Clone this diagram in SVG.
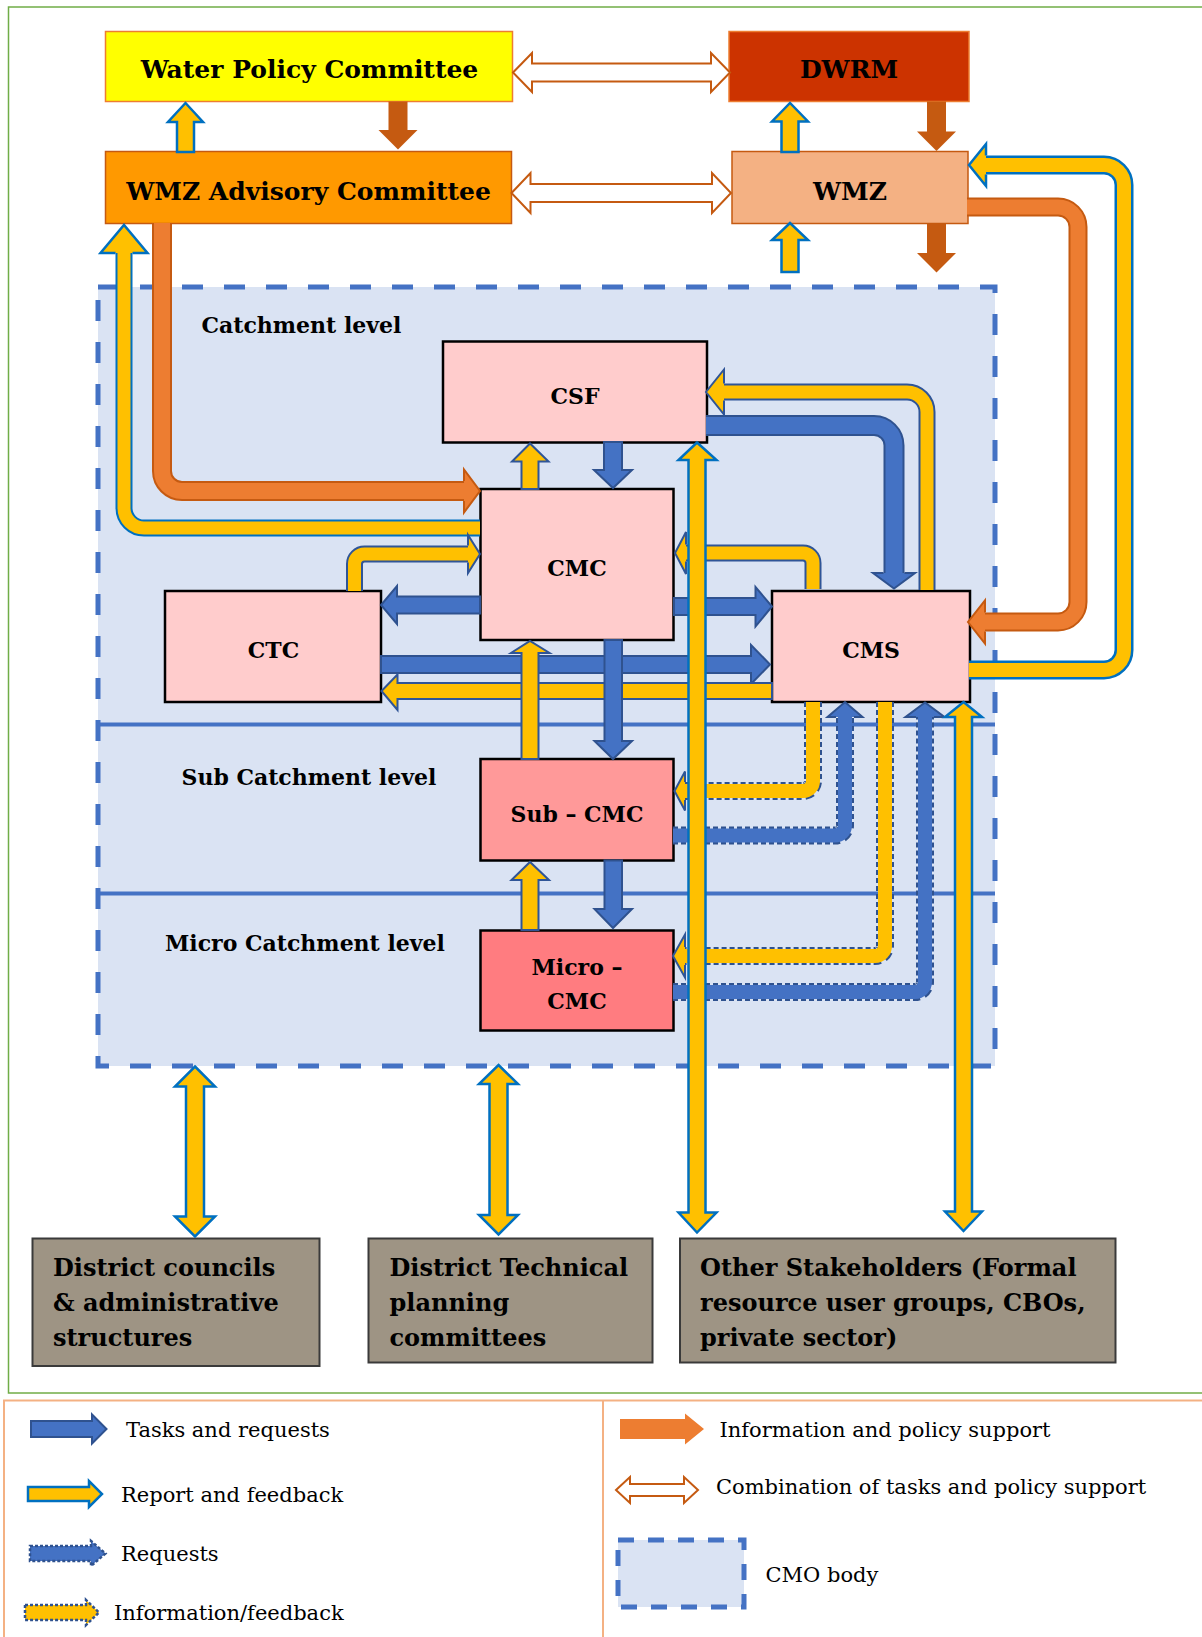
<svg xmlns="http://www.w3.org/2000/svg" width="1202" height="1637" viewBox="0 0 1202 1637">
<style>
text{font-family:"DejaVu Serif","Liberation Serif",serif;fill:#000}
.b{font-weight:bold}
.t25{font-size:25px}
.t22{font-size:22px}
.t24{font-size:24px}
.t21{font-size:21px}
.nb{stroke:#000;stroke-width:2.5}
.gb{fill:#9E9484;stroke:#3A3A3A;stroke-width:2}
.yb{fill:#FFC000;stroke:#0070C0;stroke-width:2.5}
.yd{fill:#FFC000;stroke:#2F5597;stroke-width:2}
.bl{fill:#4472C4;stroke:#2F528F;stroke-width:2}
.dk{fill:#C55A11}
.ho{fill:#fff;stroke:#C55A11;stroke-width:2}
.or{fill:#ED7D31;stroke:#C55A11;stroke-width:2}
.s{fill:none}
.oyb{stroke:#0070C0}
.oyd{stroke:#2F5597}
.iy{stroke:#FFC000}
.ob{stroke:#2F528F}
.ib{stroke:#4472C4}
.oo{stroke:#C55A11}
.io{stroke:#ED7D31}
.dash{stroke-dasharray:5 3}
</style>

<!-- frames -->
<rect x="8.5" y="7" width="1260" height="1386" fill="none" stroke="#70AD47" stroke-width="1.5"/>
<rect x="4" y="1400.5" width="1260" height="300" fill="none" stroke="#F4B183" stroke-width="2"/>
<line x1="603" y1="1400.5" x2="603" y2="1637" stroke="#F4B183" stroke-width="2"/>

<!-- CMO body -->
<g id="cmo-body">
<rect x="98" y="287" width="897" height="779" fill="#DAE3F3" stroke="#4472C4" stroke-width="5" stroke-dasharray="21 21"/>
<line x1="98" y1="724.5" x2="995" y2="724.5" stroke="#4472C4" stroke-width="4"/>
<line x1="98" y1="893.5" x2="995" y2="893.5" stroke="#4472C4" stroke-width="4"/>
<text class="b t22" x="201.5" y="333">Catchment level</text>
<text class="b t22" x="181.5" y="784.5">Sub Catchment level</text>
<text class="b t22" x="165" y="950.5">Micro Catchment level</text>
</g>

<!-- nodes -->
<g id="n-wpc"><rect x="105.5" y="31.5" width="407" height="70" fill="#FFFF00" stroke="#ED7D31" stroke-width="1.5"/><text class="b t25" x="309.5" y="78" text-anchor="middle">Water Policy Committee</text></g>
<g id="n-dwrm"><rect x="729" y="31.5" width="240" height="70" fill="#CC3300" stroke="#ED7D31" stroke-width="1.5"/><text class="b t25" x="849" y="78" text-anchor="middle">DWRM</text></g>
<g id="n-wmzac"><rect x="105.5" y="151.5" width="406" height="72" fill="#FF9900" stroke="#C55A11" stroke-width="1.5"/><text class="b t25" x="308.5" y="200" text-anchor="middle">WMZ Advisory Committee</text></g>
<g id="n-wmz"><rect x="732" y="151.5" width="236" height="72" fill="#F4B183" stroke="#C55A11" stroke-width="1.5"/><text class="b t25" x="850" y="200" text-anchor="middle">WMZ</text></g>
<g id="n-csf"><rect x="443" y="341.5" width="264" height="101" fill="#FFCCCC" class="nb"/><text class="b t22" x="575" y="404" text-anchor="middle">CSF</text></g>
<g id="n-cmc"><rect x="480.5" y="489" width="193" height="151" fill="#FFCCCC" class="nb"/><text class="b t22" x="577" y="576" text-anchor="middle">CMC</text></g>
<g id="n-ctc"><rect x="165" y="591" width="216" height="111" fill="#FFCCCC" class="nb"/><text class="b t22" x="273.5" y="658" text-anchor="middle">CTC</text></g>
<g id="n-cms"><rect x="772" y="591" width="198" height="111" fill="#FFCCCC" class="nb"/><text class="b t22" x="871" y="658" text-anchor="middle">CMS</text></g>
<g id="n-subcmc"><rect x="480.5" y="759" width="193" height="101.5" fill="#FF9999" class="nb"/><text class="b t22" x="577" y="822" text-anchor="middle">Sub – CMC</text></g>
<g id="n-microcmc"><rect x="480.5" y="930.5" width="193" height="100" fill="#FF7C80" class="nb"/><text class="b t22" x="577" y="975" text-anchor="middle">Micro –</text><text class="b t22" x="577" y="1009" text-anchor="middle">CMC</text></g>
<g id="n-district-councils"><rect x="32.5" y="1238.5" width="287" height="127.5" class="gb"/><text class="b t24" x="53" y="1276"><tspan x="53">District councils</tspan><tspan x="53" dy="35">&amp; administrative</tspan><tspan x="53" dy="35">structures</tspan></text></g>
<g id="n-district-technical"><rect x="368.5" y="1238.5" width="284" height="124" class="gb"/><text class="b t24" x="389.5" y="1276"><tspan x="389.5">District Technical</tspan><tspan x="389.5" dy="35">planning</tspan><tspan x="389.5" dy="35">committees</tspan></text></g>
<g id="n-other-stakeholders"><rect x="680" y="1238.5" width="435.5" height="124" class="gb"/><text class="b t24" x="700" y="1276"><tspan x="700">Other Stakeholders (Formal</tspan><tspan x="700" dy="35">resource user groups, CBOs,</tspan><tspan x="700" dy="35">private sector)</tspan></text></g>

<!-- connectors -->
<g id="connectors">
<!-- top level -->
<polygon class="ho" points="513,72.5 532,53 532,63.5 711,63.5 711,53 730,72.5 711,92 711,81.5 532,81.5 532,92"/>
<polygon class="ho" points="511.5,193 530.5,173 530.5,184 712,184 712,173 731,193 712,213 712,202 530.5,202 530.5,213"/>
<polygon class="yb" points="177,152 177,122 168,122 185.5,103 203,122 194,122 194,152"/>
<polygon class="dk" points="388.5,101.5 407.5,101.5 407.5,130 417.5,130 398,149.5 378.5,130 388.5,130"/>
<polygon class="yb" points="781.5,152 781.5,121.5 772,121.5 790,103 808,121.5 798.5,121.5 798.5,152"/>
<polygon class="dk" points="927,101.5 946,101.5 946,131.5 956,131.5 936.5,151 917,131.5 927,131.5"/>
<polygon class="yb" points="781.5,272 781.5,240 772,240 790,223 808,240 798.5,240 798.5,272"/>
<polygon class="dk" points="927,223.5 946,223.5 946,253 956,253 936.5,272.5 917,253 927,253"/>

<!-- CMS -> WMZ (yellow loop) -->
<path class="s oyb" stroke-width="19" d="M969,670 H1104 A20,20 0 0 0 1124,650 V185 A20,20 0 0 0 1104,165 H986"/>
<path class="s iy" stroke-width="14" d="M969,670 H1104 A20,20 0 0 0 1124,650 V185 A20,20 0 0 0 1104,165 H986"/>
<path class="yb" d="M986,155.5 L986,144 L969,165 L986,186 L986,174.5"/>
<!-- WMZ -> CMS (orange) -->
<path class="s oo" stroke-width="19" d="M967,207 H1058 A20,20 0 0 1 1078,227 V602 A20,20 0 0 1 1058,622 H985"/>
<path class="s io" stroke-width="15" d="M967,207 H1058 A20,20 0 0 1 1078,227 V602 A20,20 0 0 1 1058,622 H985"/>
<path class="or" d="M985,612.5 L985,600.5 L968,622 L985,643.5 L985,631.5"/>
<!-- WMZAC -> CMC (orange) -->
<path class="s oo" stroke-width="20" d="M162,223 V471 A20,20 0 0 0 182,491 H464"/>
<path class="s io" stroke-width="16" d="M162,223 V471 A20,20 0 0 0 182,491 H464"/>
<path class="or" d="M464,481 L464,469.5 L480,491 L464,512.5 L464,501"/>
<!-- CMC -> WMZAC (yellow) -->
<path class="s oyb" stroke-width="17" d="M480,528 H144 A20,20 0 0 1 124,508 V253"/>
<path class="s iy" stroke-width="13" d="M480,528 H144 A20,20 0 0 1 124,508 V253"/>
<path class="yb" d="M115.5,253 L100.5,253 L124,225 L147.5,253 L132.5,253"/>
<!-- CSF -> CMS (blue) -->
<path class="s ob" stroke-width="21" d="M706,425.5 H874 A20,20 0 0 1 894,445.5 V573"/>
<path class="s ib" stroke-width="17" d="M706,425.5 H874 A20,20 0 0 1 894,445.5 V573"/>
<path class="bl" d="M883.5,573 L873,573 L894,588.5 L915,573 L904.5,573"/>
<!-- CMS -> CSF (yellow) -->
<path class="s oyd" stroke-width="17" d="M927,590 V412 A20,20 0 0 0 907,392 H724"/>
<path class="s iy" stroke-width="13" d="M927,590 V412 A20,20 0 0 0 907,392 H724"/>
<path class="yd" d="M724,383.5 L724,369.5 L706,392 L724,414.5 L724,400.5"/>
<!-- CMS -> CMC (yellow) -->
<path class="s oyd" stroke-width="17" d="M813,589 V563 A10,10 0 0 0 803,553 H686"/>
<path class="s iy" stroke-width="13" d="M813,589 V563 A10,10 0 0 0 803,553 H686"/>
<path class="yd" d="M686,544.5 L686,532 L675,553 L686,574 L686,561.5"/>
<!-- CTC -> CMC (yellow) -->
<path class="s oyd" stroke-width="17" d="M354.5,591 V564 A10,10 0 0 1 364.5,554 H468"/>
<path class="s iy" stroke-width="13" d="M354.5,591 V564 A10,10 0 0 1 364.5,554 H468"/>
<path class="yd" d="M468,545.5 L468,535 L480,554 L468,573 L468,562.5"/>

<!-- horizontals in catchment level -->
<polygon class="bl" points="480,596.5 397,596.5 397,586 381,605 397,624 397,613.5 480,613.5"/>
<polygon class="bl" points="674,598 755.5,598 755.5,587 772,606.5 755.5,626.5 755.5,615 674,615"/>
<polygon class="bl" points="381,656 751,656 751,645 770,664.5 751,684 751,673 381,673"/>
<polygon class="yd" points="772,683 397.5,683 397.5,674.5 381.5,691 397.5,710 397.5,699 772,699"/>

<!-- dashed connectors -->
<path class="s ob dash" stroke-width="18" d="M813,702 V781 A10,10 0 0 1 803,791 H685"/>
<path class="s iy" stroke-width="14" d="M813,702 V781 A10,10 0 0 1 803,791 H685"/>
<path class="yd" d="M685,782 L685,771.5 L674.5,791 L685,810.5 L685,800"/>
<path class="s ob dash" stroke-width="18" d="M673,835.5 H835 A10,10 0 0 0 845,825.5 V717"/>
<path class="s ib" stroke-width="14" d="M673,835.5 H835 A10,10 0 0 0 845,825.5 V717"/>
<path class="bl" d="M836,717 L827.5,717 L845,702 L862.5,717 L854,717"/>
<path class="s ob dash" stroke-width="18" d="M885,702 V946 A10,10 0 0 1 875,956 H685"/>
<path class="s iy" stroke-width="14" d="M885,702 V946 A10,10 0 0 1 875,956 H685"/>
<path class="yd" d="M685,947 L685,934.5 L673,956 L685,977.5 L685,965"/>
<path class="s ob dash" stroke-width="18" d="M673,992 H915 A10,10 0 0 0 925,982 V717"/>
<path class="s ib" stroke-width="14" d="M673,992 H915 A10,10 0 0 0 925,982 V717"/>
<path class="bl" d="M916,717 L905.5,717 L925,702.5 L944.5,717 L934,717"/>

<!-- central verticals -->
<polygon class="yd" points="521.5,489 521.5,461.5 512,461.5 530,443.5 548.5,461.5 538.5,461.5 538.5,489"/>
<polygon class="bl" points="604,442 622,442 622,470 632,470 613,488 594,470 604,470"/>
<polygon class="yd" points="521.5,759 521.5,653 511,653 530,641 549.5,653 538.5,653 538.5,759"/>
<polygon class="bl" points="604.5,640 622,640 622,741 632,741 613,759 594.5,741 604.5,741"/>
<polygon class="yd" points="521.5,930 521.5,880 511.5,880 530,862 549,880 538.5,880 538.5,930"/>
<polygon class="bl" points="604.5,860.5 622,860.5 622,909 632,909 613,928 594.5,909 604.5,909"/>

<!-- long verticals -->
<polygon class="yb" points="697,442.5 716.5,460 705.5,460 705.5,1212.5 716.5,1212.5 697,1232.5 678.5,1212.5 688.5,1212.5 688.5,460 678.5,460"/>
<polygon class="yb" points="963.5,702 982,717 972,717 972,1211.5 982,1211.5 963.5,1231 945,1211.5 955,1211.5 955,717 945,717"/>
<polygon class="yb" points="195,1066.5 215,1086.5 204,1086.5 204,1216.5 215,1216.5 195,1236.5 175,1216.5 186,1216.5 186,1086.5 175,1086.5"/>
<polygon class="yb" points="498.5,1065 518,1084 507.5,1084 507.5,1215 518,1215 498.5,1234.5 479,1215 489.5,1215 489.5,1084 479,1084"/>
</g>

<!-- legend -->
<g id="legend">
<polygon class="bl" points="31,1421 92,1421 92,1414.5 106.5,1429 92,1443.5 92,1437 31,1437"/>
<text class="t21" x="126" y="1437">Tasks and requests</text>
<polygon class="yb" points="28,1487 89,1487 89,1481 102,1494 89,1507 89,1501 28,1501"/>
<text class="t21" x="121" y="1502">Report and feedback</text>
<polygon points="30,1546 91,1546 91,1541 105.5,1553.5 91,1566 91,1561 30,1561" fill="#4472C4" stroke="#2F528F" stroke-width="2.5" stroke-dasharray="3 2"/>
<text class="t21" x="121" y="1561">Requests</text>
<polygon points="25,1605 86,1605 86,1600 99,1612.5 86,1625 86,1620 25,1620" fill="#FFC000" stroke="#2F528F" stroke-width="2.5" stroke-dasharray="3 2"/>
<text class="t21" x="114" y="1620">Information/feedback</text>
<polygon points="620,1419 685,1419 685,1413.5 704,1429 685,1444.5 685,1439 620,1439" fill="#ED7D31"/>
<text class="t21" x="719.5" y="1437">Information and policy support</text>
<polygon class="ho" points="616,1490 630,1477 630,1484 684,1484 684,1477 698,1490 684,1503 684,1496 630,1496 630,1503"/>
<text class="t21" x="716" y="1494">Combination of tasks and policy support</text>
<rect x="618" y="1540" width="126" height="67" fill="#DAE3F3" stroke="#4472C4" stroke-width="5" stroke-dasharray="16 14"/>
<text class="t21" x="765.5" y="1582">CMO body</text>
</g>
</svg>
